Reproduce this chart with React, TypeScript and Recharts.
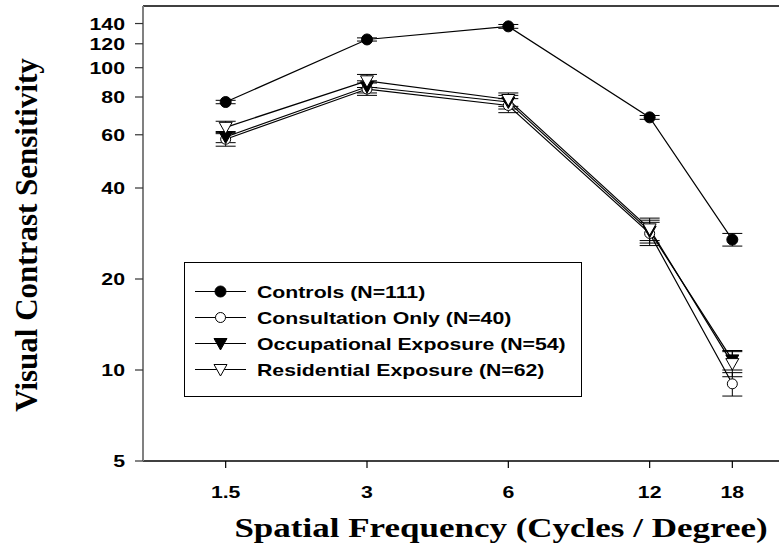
import React from 'react';
import { LineChart, Line, XAxis, YAxis, ErrorBar, ReferenceLine, Legend, Label } from 'recharts';

const freqs = [1.5, 3, 6, 12, 18];
const yTicks = [5, 10, 20, 40, 60, 80, 100, 120, 140];

const controls = [77, 124, 137, 68.5, 27];
const controlsErr = [1, 1.5, 2, 1, 1.3];
const consult = [58, 85, 75, 28.3, 9.0];
const consultErr = [3, 4, 4, 2.5, 0.8];
const occupational = [59, 86.5, 77, 28.8, 10.8];
const occupationalErr = [2.5, 4, 4, 2.5, 0.8];
const residential = [63.5, 90.5, 78.5, 29.3, 10.5];
const residentialErr = [3, 4.5, 4, 2.5, 1];

const seriesNames = [
  'Controls (N=111)',
  'Consultation Only (N=40)',
  'Occupational Exposure (N=54)',
  'Residential Exposure (N=62)',
];

const data = freqs.map((f, i) => ({
  freq: f,
  controls: controls[i],
  controlsErr: [controlsErr[i], controlsErr[i]],
  consult: consult[i],
  consultErr: [consultErr[i], consultErr[i]],
  occupational: occupational[i],
  occupationalErr: [occupationalErr[i], occupationalErr[i]],
  residential: residential[i],
  residentialErr: [residentialErr[i], residentialErr[i]],
}));

const SX = 1.25;
const sansBold = { fontFamily: '"Liberation Sans", Arial, sans-serif', fontWeight: 700 };
const serifBold = { fontFamily: '"Liberation Serif", "Times New Roman", serif', fontWeight: 700 };

type Kind = 'filledCircle' | 'openCircle' | 'filledTri' | 'openTri';

function Marker({ kind, cx, cy }: { kind: Kind; cx: number; cy: number }) {
  if (kind === 'filledCircle') return <circle cx={cx} cy={cy} r={5.5} fill="#000" stroke="#000" strokeWidth={1} />;
  if (kind === 'openCircle') return <circle cx={cx} cy={cy} r={5} fill="#fff" stroke="#000" strokeWidth={1} />;
  const pts = `${cx - 6.5},${cy - 5} ${cx + 6.5},${cy - 5} ${cx},${cy + 6.5}`;
  if (kind === 'filledTri') return <polygon points={pts} fill="#000" stroke="#000" strokeWidth={1} />;
  return <polygon points={pts} fill="#fff" stroke="#000" strokeWidth={1} />;
}

const makeDot = (kind: Kind) => (props: any) => {
  const { cx, cy, index } = props;
  if (cx == null || cy == null) return <g key={`d-${kind}-${index}`} />;
  return (
    <g key={`d-${kind}-${index}`}>
      <Marker kind={kind} cx={cx} cy={cy} />
    </g>
  );
};

const kinds: Kind[] = ['filledCircle', 'openCircle', 'filledTri', 'openTri'];

const XTick = (props: any) => {
  const { x, payload } = props;
  return (
    <text transform={`translate(${x},498) scale(${SX},1)`} textAnchor="middle" fontSize={17} fill="#000" style={sansBold}>
      {payload.value}
    </text>
  );
};

const YTick = (props: any) => {
  const { y, payload } = props;
  return (
    <text transform={`translate(125,${y + 6}) scale(${SX},1)`} textAnchor="end" fontSize={17} fill="#000" style={sansBold}>
      {payload.value}
    </text>
  );
};

const LegendBox = () => (
  <svg width={398} height={135} style={{ display: 'block' }}>
    <rect x={0.5} y={0.5} width={397} height={134} fill="#fff" stroke="#000" strokeWidth={1} />
    {seriesNames.map((name, i) => {
      const y = 29.5 + i * 26;
      return (
        <g key={name}>
          <line x1={11} x2={62} y1={y} y2={y} stroke="#000" strokeWidth={1} />
          <Marker kind={kinds[i]} cx={36.5} cy={y} />
          <text transform={`translate(73,${y + 6}) scale(${SX},1)`} fontSize={17} fill="#000" style={sansBold}>
            {name}
          </text>
        </g>
      );
    })}
  </svg>
);

export default function App() {
  return (
    <div style={{ position: 'absolute', left: 0, top: 0, width: 779, height: 549, background: '#fff' }}>
      <LineChart width={779} height={549} data={data} margin={{ top: 6, right: 0, left: 0, bottom: 0 }}>
        <XAxis
          dataKey="freq"
          type="number"
          scale="log"
          domain={[1, 22.63]}
          allowDataOverflow
          ticks={freqs}
          interval={0}
          tick={<XTick />}
          tickSize={7}
          height={88}
          axisLine={{ stroke: '#000', strokeWidth: 1.5 }}
          tickLine={{ stroke: '#000', strokeWidth: 1.2 }}
        >
          <Label
            content={() => (
              <text transform={`translate(501,537) scale(${SX},1)`} textAnchor="middle" fontSize={28} fill="#000" style={serifBold}>
                Spatial Frequency (Cycles / Degree)
              </text>
            )}
          />
        </XAxis>
        <YAxis
          type="number"
          scale="log"
          domain={[5, 160]}
          allowDataOverflow
          ticks={yTicks}
          interval={0}
          tick={<YTick />}
          tickSize={8}
          width={143}
          axisLine={{ stroke: '#808080', strokeWidth: 2 }}
          tickLine={{ stroke: '#333', strokeWidth: 1.2 }}
        >
          <Label
            content={() => (
              <text transform="translate(37,235) rotate(-90)" textAnchor="middle" fontSize={31} fill="#000" style={serifBold}>
                Visual Contrast Sensitivity
              </text>
            )}
          />
        </YAxis>
        <ReferenceLine y={160} stroke="#000" strokeWidth={1.5} />
        <Legend
          layout="horizontal"
          verticalAlign="middle"
          align="center"
          content={() => <LegendBox />}
          wrapperStyle={{ left: 184, top: 262, width: 398, height: 135 }}
        />
        <Line dataKey="controls" stroke="#000" strokeWidth={1.2} dot={makeDot('filledCircle')} isAnimationActive={false}>
          <ErrorBar dataKey="controlsErr" direction="y" width={10} stroke="#000" strokeWidth={1} />
        </Line>
        <Line dataKey="consult" stroke="#000" strokeWidth={1.2} dot={makeDot('openCircle')} isAnimationActive={false}>
          <ErrorBar dataKey="consultErr" direction="y" width={10} stroke="#000" strokeWidth={1} />
        </Line>
        <Line dataKey="occupational" stroke="#000" strokeWidth={1.2} dot={makeDot('filledTri')} isAnimationActive={false}>
          <ErrorBar dataKey="occupationalErr" direction="y" width={10} stroke="#000" strokeWidth={1} />
        </Line>
        <Line dataKey="residential" stroke="#000" strokeWidth={1.2} dot={makeDot('openTri')} isAnimationActive={false}>
          <ErrorBar dataKey="residentialErr" direction="y" width={10} stroke="#000" strokeWidth={1} />
        </Line>
      </LineChart>
    </div>
  );
}
